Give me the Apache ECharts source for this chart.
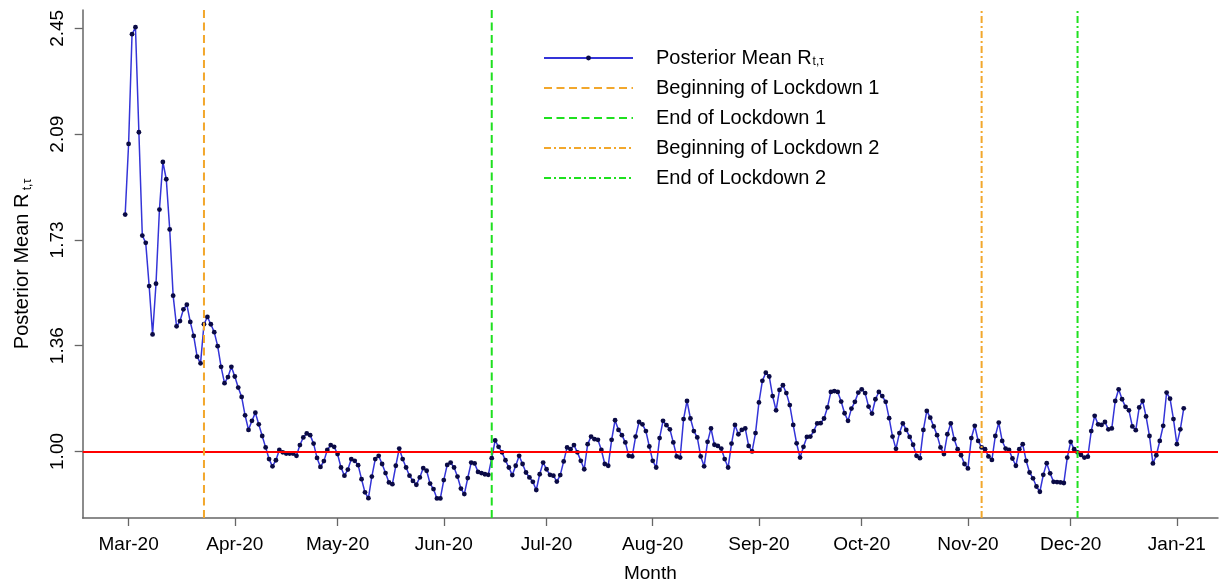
<!DOCTYPE html>
<html>
<head>
<meta charset="utf-8">
<script src="https://cdn.jsdelivr.net/npm/echarts@6/dist/echarts.min.js"></script>
<style>
html,body{margin:0;padding:0;background:#fff;}
#chart{width:1221px;height:588px;}
</style>
</head>
<body>
<div id="chart"></div>
<script>
// ---------------- DATA ----------------
const firstDate = '2020-02-29';
const rValues = [
1.812,2.054,2.430,2.454,2.094,1.740,1.715,1.567,1.401,1.575,
1.829,1.992,1.933,1.761,1.534,1.429,1.447,1.487,1.503,1.444,
1.396,1.325,1.302,1.436,1.461,1.436,1.409,1.361,1.290,1.234,
1.255,1.290,1.257,1.219,1.187,1.124,1.074,1.105,1.133,1.093,
1.053,1.014,0.974,0.949,0.970,1.005,0.997,0.993,0.993,0.993,
0.985,1.022,1.048,1.062,1.056,1.027,0.978,0.947,0.967,1.005,
1.022,1.016,0.991,0.945,0.917,0.938,0.974,0.968,0.953,0.905,
0.860,0.840,0.914,0.974,0.985,0.957,0.926,0.894,0.888,0.951,
1.010,0.974,0.945,0.917,0.899,0.886,0.911,0.943,0.934,0.890,
0.871,0.839,0.839,0.902,0.954,0.962,0.945,0.914,0.873,0.854,
0.909,0.962,0.959,0.930,0.926,0.922,0.920,0.977,1.038,1.016,
0.997,0.970,0.945,0.919,0.951,0.985,0.957,0.928,0.911,0.896,
0.868,0.922,0.962,0.939,0.920,0.917,0.897,0.919,0.966,1.014,
1.008,1.022,0.997,0.968,0.939,1.025,1.051,1.042,1.040,1.005,
0.957,0.951,1.040,1.107,1.074,1.056,1.031,0.985,0.983,1.051,
1.101,1.093,1.070,1.017,0.968,0.945,1.046,1.105,1.090,1.076,
1.031,0.983,0.979,1.111,1.173,1.113,1.070,1.048,0.983,0.949,
1.033,1.079,1.023,1.019,1.010,0.974,0.945,1.027,1.091,1.059,
1.074,1.079,1.019,1.000,1.063,1.168,1.242,1.270,1.257,1.190,
1.141,1.211,1.227,1.200,1.159,1.091,1.028,0.979,1.016,1.050,
1.051,1.070,1.096,1.097,1.113,1.151,1.204,1.207,1.204,1.171,
1.131,1.105,1.147,1.170,1.202,1.213,1.200,1.154,1.130,1.179,
1.204,1.190,1.170,1.114,1.051,1.009,1.063,1.096,1.074,1.050,
1.023,0.985,0.977,1.074,1.139,1.116,1.086,1.056,1.014,0.991,
1.059,1.096,1.042,1.008,0.987,0.957,0.942,1.046,1.088,1.036,
1.014,1.008,0.983,0.971,1.053,1.099,1.036,1.010,1.005,0.976,
0.951,1.008,1.025,0.968,0.928,0.908,0.880,0.862,0.920,0.960,
0.925,0.896,0.895,0.894,0.892,0.979,1.033,1.008,0.997,0.988,
0.979,0.982,1.070,1.122,1.093,1.091,1.101,1.076,1.079,1.173,
1.213,1.179,1.153,1.141,1.086,1.073,1.151,1.173,1.120,1.053,
0.959,0.987,1.036,1.088,1.202,1.181,1.111,1.025,1.076,1.148
];
const monthTickDates = ['2020-03-01','2020-04-01','2020-05-01','2020-06-01','2020-07-01','2020-08-01','2020-09-01','2020-10-01','2020-11-01','2020-12-01','2021-01-01'];
const monthTickLabels = ['Mar-20','Apr-20','May-20','Jun-20','Jul-20','Aug-20','Sep-20','Oct-20','Nov-20','Dec-20','Jan-21'];
const yTickValues = [1.0, 1.3625, 1.725, 2.0875, 2.45];
const yTickLabels = ['1.00','1.36','1.73','2.09','2.45'];
const lockdownNames = ['Beginning of Lockdown 1','End of Lockdown 1','Beginning of Lockdown 2','End of Lockdown 2'];
const lockdownDates = ['2020-03-23','2020-06-15','2020-11-05','2020-12-03'];
const referenceLevel = 1.0;
const mainName = 'Posterior Mean R';

// ---------------- HELPERS ----------------
const origin = Date.parse('2020-03-01T00:00:00Z');
function dayNum(s){ return Math.round((Date.parse(s + 'T00:00:00Z') - origin) / 86400000); }
const startDay = dayNum(firstDate);
const seriesData = rValues.map((v, i) => [startDay + i, v]);
const tickDays = monthTickDates.map(dayNum);

const X_MIN = -13.4, X_MAX = 318.0, Y_MIN = 0.772, Y_MAX = 2.513;
const FONT = "'Liberation Sans', Arial, Helvetica, sans-serif";
const lineColors = ['#F2A72C', '#1FE01F', '#F2A72C', '#1FE01F'];
const lineTypes = [[8, 4.5], [8, 4.5], [7, 3, 2, 3], [7, 3, 2, 3]];

const vSeries = lockdownNames.map((n, i) => ({
  name: n,
  type: 'line',
  data: [[dayNum(lockdownDates[i]), Y_MIN], [dayNum(lockdownDates[i]), Y_MAX]],
  symbol: 'none',
  silent: true,
  z: 5,
  lineStyle: { color: lineColors[i], width: 2, type: lineTypes[i] },
  itemStyle: { color: lineColors[i] },
  animation: false
}));

const legendData = [{ name: mainName }].concat(lockdownNames.map(n => ({ name: n, itemStyle: { opacity: 0 } })));

const chart = echarts.init(document.getElementById('chart'), null, { renderer: 'canvas' });
chart.setOption({
  animation: false,
  backgroundColor: '#ffffff',
  textStyle: { fontFamily: FONT, color: '#000' },
  grid: { left: 82.7, right: 3, top: 10, bottom: 69, containLabel: false },
  legend: {
    orient: 'vertical',
    left: 543,
    top: 47,
    padding: 0,
    itemWidth: 89,
    itemHeight: 6,
    itemGap: 10,
    data: legendData,
    formatter: function (name) {
      return name === mainName ? '{a|Posterior Mean R}{s|t,τ}' : '{a|' + name + '}';
    },
    textStyle: {
      fontFamily: FONT,
      color: '#000',
      padding: [0, 0, 0, 18],
      rich: {
        a: { fontSize: 20, lineHeight: 20, fontFamily: FONT, color: '#000' },
        s: { fontSize: 12, lineHeight: 20, fontFamily: FONT, color: '#000', verticalAlign: 'bottom', padding: [9, 0, 0, 1] }
      }
    }
  },
  xAxis: {
    type: 'value',
    min: X_MIN,
    max: X_MAX,
    name: 'Month',
    nameLocation: 'middle',
    nameGap: 46,
    nameTextStyle: { fontSize: 19, fontFamily: FONT, color: '#000' },
    axisLine: { show: true, onZero: false, lineStyle: { color: '#666', width: 1.5 } },
    axisTick: { show: true, length: 8, customValues: tickDays, lineStyle: { color: '#666', width: 1.3 } },
    axisLabel: {
      customValues: tickDays,
      fontSize: 19,
      fontFamily: FONT,
      color: '#000',
      margin: 17,
      formatter: function (v) {
        const i = tickDays.indexOf(Math.round(v));
        return i >= 0 ? monthTickLabels[i] : '';
      }
    },
    splitLine: { show: false }
  },
  yAxis: {
    type: 'value',
    min: Y_MIN,
    max: Y_MAX,
    name: '{a|Posterior Mean R}{s| t,τ}',
    nameLocation: 'middle',
    nameRotate: 90,
    nameGap: 49,
    nameTextStyle: {
      fontFamily: FONT,
      color: '#000',
      rich: {
        a: { fontSize: 20, lineHeight: 22, fontFamily: FONT, color: '#000' },
        s: { fontSize: 12, lineHeight: 22, fontFamily: FONT, color: '#000', verticalAlign: 'bottom' }
      }
    },
    axisLine: { show: true, onZero: false, lineStyle: { color: '#666', width: 1.5 } },
    axisTick: { show: true, length: 8, customValues: yTickValues, lineStyle: { color: '#666', width: 1.3 } },
    axisLabel: {
      customValues: yTickValues,
      rotate: 90,
      fontSize: 19,
      fontFamily: FONT,
      color: '#000',
      margin: 15,
      formatter: function (v) {
        let best = 0, bd = Infinity;
        yTickValues.forEach((t, i) => { const d = Math.abs(t - v); if (d < bd) { bd = d; best = i; } });
        return yTickLabels[best];
      }
    },
    splitLine: { show: false }
  },
  series: [
    {
      name: mainName,
      type: 'line',
      data: seriesData,
      symbol: 'circle',
      symbolSize: 4.8,
      showAllSymbol: true,
      z: 3,
      lineStyle: { color: '#3434D8', width: 1.5 },
      itemStyle: { color: '#0A0A45', borderWidth: 0 },
      markLine: {
        silent: true,
        symbol: 'none',
        label: { show: false },
        lineStyle: { color: '#FF0000', width: 2, type: 'solid' },
        data: [{ yAxis: referenceLevel }],
        animation: false
      }
    }
  ].concat(vSeries)
});
</script>
</body>
</html>
